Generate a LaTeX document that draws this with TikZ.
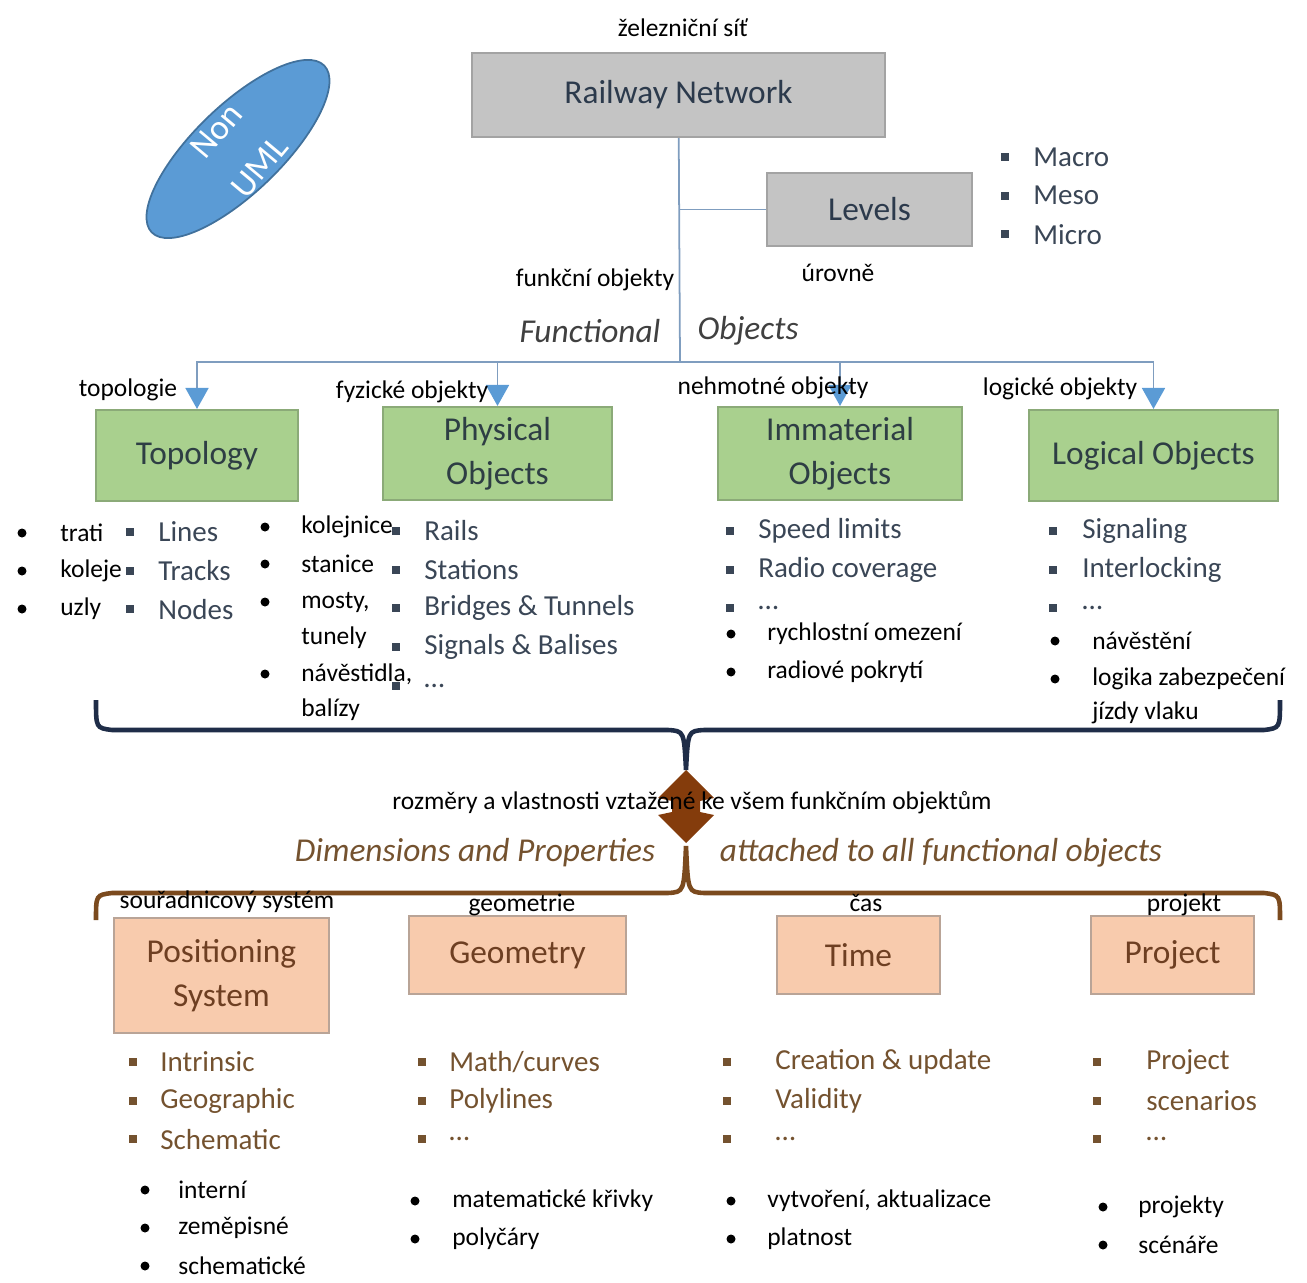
\documentclass[tikz,border=0pt]{standalone}
\usepackage{fontspec}
\setmainfont{Carlito}
\usetikzlibrary{shapes.geometric,arrows.meta}
\definecolor{netfill}{HTML}{C4C4C4}
\definecolor{netline}{HTML}{A3A3A3}
\definecolor{toptext}{HTML}{2C3A4C}
\definecolor{listtext}{HTML}{3A4656}
\definecolor{umlfill}{HTML}{5B9BD5}
\definecolor{umlline}{HTML}{41719C}
\definecolor{linkblue}{HTML}{7F9DBF}
\definecolor{greenfill}{HTML}{A9D08E}
\definecolor{greenline}{HTML}{8BAA78}
\definecolor{greentext}{HTML}{2E3E44}
\definecolor{peachfill}{HTML}{F8CBAD}
\definecolor{peachline}{HTML}{B9A497}
\definecolor{peachtext}{HTML}{6E3F22}
\definecolor{browntext}{HTML}{74522F}
\definecolor{navybrace}{HTML}{1F2D48}
\definecolor{brownbrace}{HTML}{7B4A1E}
\definecolor{diamondbrown}{HTML}{843C0C}
\begin{document}
\begin{tikzpicture}[x=0.02cm,y=-0.02cm,
    box/.style={line width=1.2pt, inner sep=0pt, align=center,
      font=\fontsize{19}{25}\selectfont},
    graybox/.style={box, draw=netline, fill=netfill, text=toptext},
    greenbox/.style={box, draw=greenline, fill=greenfill, text=greentext},
    peachbox/.style={box, draw=peachline, fill=peachfill, text=peachtext},
    cz/.style={font=\fontsize{14.5}{17}\selectfont, inner sep=0pt},
    en/.style={font=\fontsize{16.5}{20}\selectfont, inner sep=0pt},
    big/.style={font=\fontsize{19}{23}\selectfont\itshape, inner sep=0pt},
    link/.style={draw=linkblue, line width=1pt},
    linkarrow/.style={link, -{Triangle[length=0.42cm,width=0.46cm,color=umlfill,fill=umlfill]}}]
  \useasboundingbox (0,0) rectangle (1307,1283);

  % top of the tree
  \node[cz] (net-cz) at (683,28) {železniční síť};
  \node[graybox, minimum width=8.26cm, minimum height=1.68cm] (net) at (678.5,95) {Railway Network};
  \node[graybox, minimum width=4.1cm, minimum height=1.46cm] (levels) at (869.5,209.5) {Levels};
  \node[cz] (levels-cz) at (838,273) {úrovně};
  \node[ellipse, rotate=44, draw=umlline, fill=umlfill, line width=1pt,
    minimum width=4.8cm, minimum height=1.75cm, inner sep=0pt] (nonuml) at (238,149) {};
  \node[rotate=50, text=white, align=center, inner sep=0pt,
    font=\fontsize{20}{32}\selectfont] (nonuml-txt) at (nonuml) {Non\\UML};

  \coordinate (fork) at (680,362);
  \draw[link] (net) -- (fork);
  \draw[link] (levels.west) -- (levels.west -| fork);

  \node[cz] (func-cz) at (595,280) {funkční objekty};
  \node[big, text=black!75] (func-a) at (590,331) {Functional};
  \node[big, text=black!75] (func-b) at (748,331) {Objects};

  % functional objects
  \node[greenbox, minimum width=4.04cm, minimum height=1.82cm] (topo) at (197,455.5) {Topology};
  \node[greenbox, minimum width=4.58cm, minimum height=1.86cm] (phys) at (497.5,453.5) {Physical\\Objects};
  \node[greenbox, minimum width=4.88cm, minimum height=1.86cm] (immat) at (840,453.5) {Immaterial\\Objects};
  \node[greenbox, minimum width=4.98cm, minimum height=1.82cm] (logic) at (1153.5,455.5) {Logical Objects};
  \foreach \b in {topo,phys,immat,logic}
    \draw[linkarrow] (fork) -| (\b.north);

  \node[cz] (topo-cz) at (128,390) {topologie};
  \node[cz] (phys-cz) at (412,392) {fyzické objekty};
  \node[cz] (immat-cz) at (773,388) {nehmotné objekty};
  \node[cz] (logic-cz) at (1060,389) {logické objekty};

  % english lists
  \foreach \nm/\bx/\tx/\y/\col/\items in {
      lv/1005/1033/157/listtext/{Macro,Meso,Micro},
      topoen/130/158/532/listtext/{Lines,Tracks,Nodes},
      physen/396/424/531/listtext/{Rails,Stations,Bridges \& Tunnels,Signals \& Balises,\ldots},
      immaten/730/758/531/listtext/{Speed limits,Radio coverage,\ldots},
      logicen/1053/1082/531/listtext/{Signaling,Interlocking,\ldots},
      positen/133/160/1062/browntext/{Intrinsic,Geographic,Schematic},
      geomen/422/449/1062/browntext/{Math/curves,Polylines,\ldots},
      timeen/727/775/1062/browntext/{Creation \& update,Validity,\ldots},
      projen/1097/1146/1062/browntext/{Project,scenarios,\ldots}}
    \foreach \t [count=\i from 0] in \items {
      \fill[\col] (\bx-4,\y+38.7*\i-4) rectangle +(8,8);
      \node[en, text=\col, anchor=west] (\nm-\i) at (\tx,\y+38.7*\i) {\t};
    }

  % czech lists
  \foreach \nm/\bx/\tx/\y/\items in {
      topocz/22/60/533/{trati,koleje,uzly},
      immatcz/731/767/634/{rychlostní omezení,radiové pokrytí},
      positcz/145/178/1190/{interní,zeměpisné,schematické},
      geomcz/415/452/1201/{matematické křivky,polyčáry},
      timecz/731/767/1201/{{vytvoření, aktualizace},platnost},
      projcz/1103/1138/1207/{projekty,scénáře}}
    \foreach \t [count=\i from 0] in \items {
      \fill (\bx,\y+38*\i) circle [radius=4.5];
      \node[cz, anchor=west] (\nm-\i) at (\tx,\y+38*\i) {\t};
    }
  \foreach \t/\y [count=\i] in {kolejnice/527,stanice/564,{mosty,}/602,tunely/638,{návěstidla,}/674,balízy/710}
    \node[cz, anchor=west] (physcz-\i) at (301,\y) {\t};
  \foreach \y in {527,564,602,674}
    \fill (265,\y) circle [radius=4.5];
  \foreach \t/\y [count=\i] in {návěstění/641,logika zabezpečení/679,jízdy vlaku/713}
    \node[cz, anchor=west] (logiccz-\i) at (1092,\y) {\t};
  \foreach \y in {641,679}
    \fill (1055,\y) circle [radius=4.5];

  % braces
  \draw[navybrace, line width=2.6pt] (96,700) .. controls (96,728) .. (112,730) -- (668,730)
    .. controls (684,731) .. (686,770) .. controls (688,731) .. (704,730) -- (1264,730)
    .. controls (1280,728) .. (1280,700);
  \fill[diamondbrown] (686,770) -- (714,798) -- (700,801) -- (700,812) -- (714,815) -- (686,843)
    -- (658,815) -- (672,812) -- (672,801) -- (658,798) -- cycle;
  \node[cz] (dims-cz) at (692,803) {rozměry a vlastnosti vztažené ke všem funkčním objektům};
  \node[big, text=browntext] (dims-a) at (475,853) {Dimensions and Properties};
  \node[big, text=browntext] (dims-b) at (941,853) {attached to all functional objects};
  \draw[brownbrace, line width=2.6pt] (96,920) .. controls (96,895) .. (112,893) -- (668,893)
    .. controls (684,892) .. (686,846) .. controls (688,892) .. (704,893) -- (1264,893)
    .. controls (1280,895) .. (1280,920);

  % dimensions and properties
  \node[peachbox, minimum width=4.3cm, minimum height=2.3cm] (posit) at (221.5,975.5) {Positioning\\System};
  \node[peachbox, minimum width=4.34cm, minimum height=1.56cm] (geom) at (517.5,955) {Geometry};
  \node[peachbox, minimum width=3.26cm, minimum height=1.56cm] (time) at (858.5,955) {Time};
  \node[peachbox, minimum width=3.26cm, minimum height=1.56cm] (proj) at (1172.5,955) {Project};
  \node[cz] (posit-cz) at (227,902) {souřadnicový systém};
  \node[cz] (geom-cz) at (522,905) {geometrie};
  \node[cz] (time-cz) at (866,903) {čas};
  \node[cz] (proj-cz) at (1184,905) {projekt};
\end{tikzpicture}
\end{document}
